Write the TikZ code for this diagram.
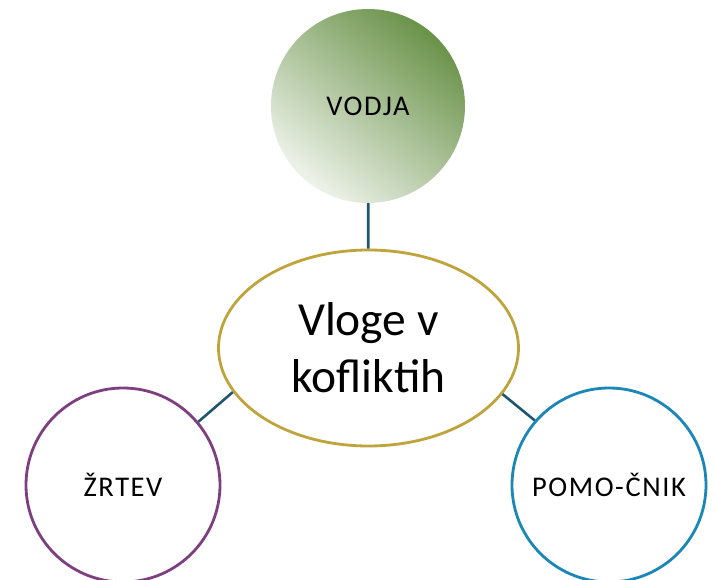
\documentclass[tikz,border=0pt]{standalone}
\usepackage{fontspec}
\setmainfont{Carlito}
\usetikzlibrary{shapes.geometric}
\definecolor{conn}{HTML}{1F5670}
\definecolor{gold}{HTML}{BFA43C}
\definecolor{purp}{HTML}{7D3F7F}
\definecolor{blu}{HTML}{1A87B6}
\definecolor{gdark}{HTML}{6A9249}
\definecolor{glight}{HTML}{EEF3EA}
\newfontfamily\rolefont[LetterSpace=5.5]{Carlito}
\tikzset{
  roleline/.style={conn, line width=2.6pt},
  rolecirc/.style={circle, minimum size=194pt, inner sep=0pt, line width=2.8pt, fill=white,
     font=\rolefont\fontsize{28.5}{34}\selectfont, text=black},
}
\begin{document}
\begin{tikzpicture}[x=1pt,y=-1pt]
\useasboundingbox (0,0) rectangle (716,580);
\clip (0,0) rectangle (716,580);
\node[circle, minimum size=194pt, inner sep=0pt, shade, top color=gdark, bottom color=glight, shading angle=-40,
  font=\rolefont\fontsize{28.5}{34}\selectfont] (vodja) at (368,106) {VODJA};
\node[ellipse, minimum width=300pt, minimum height=196pt, inner sep=0pt, draw=gold, line width=2.8pt, fill=white,
  align=center, font=\fontsize{47.5}{57}\selectfont] (center) at (368.5,348) {Vloge v\\kofliktih};
\node[rolecirc, draw=purp] (zrtev) at (123,485) {ŽRTEV};
\node[rolecirc, draw=blu] (pomo) at (609,485) {POMO-ČNIK};
\draw[roleline] (vodja) -- (center);
\draw[roleline] (center.198.4) -- (zrtev.40.5);
\draw[roleline] (center.341.6) -- (pomo.139.5);
\end{tikzpicture}
\end{document}
